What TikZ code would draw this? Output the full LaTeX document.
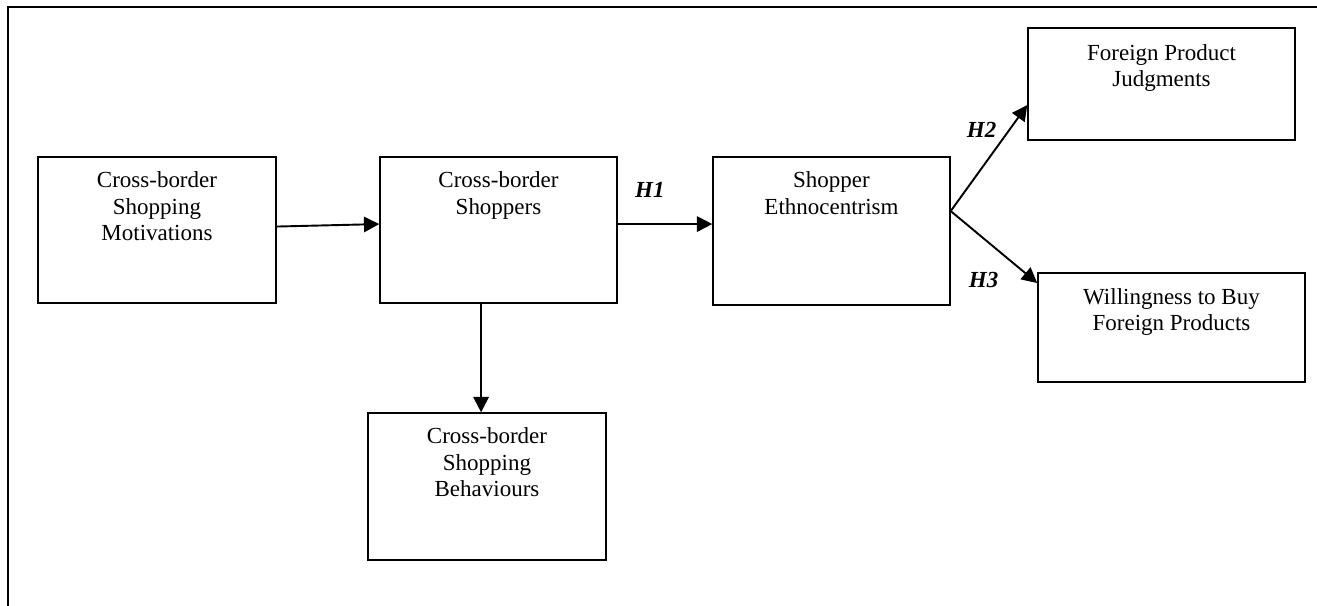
\documentclass[tikz,border=0pt]{standalone}
\usepackage{fontspec}
\setmainfont{Liberation Serif}
\usetikzlibrary{arrows.meta,positioning}

\begin{document}
\begin{tikzpicture}[
    x=0.522pt, y=-0.522pt,
    box/.style={rectangle, draw=black, line width=0.75pt, inner sep=0pt},
    boxtext/.style={align=center, inner sep=0pt, font=\fontsize{12}{13.8}\selectfont},
    hyp/.style={inner sep=0pt, font=\fontsize{12}{13.8}\selectfont\bfseries\itshape},
    link/.style={-{Triangle[length=8pt,width=8pt]}, line width=1pt},
    frame/.style={line width=1pt}
]
\useasboundingbox (0,0) rectangle (1317,606);

% outer frame, only top and left show
\coordinate (tl) at (8,7);
\coordinate (tr) at (1317,7);
\coordinate (bl) at (8,606);
\draw[frame] (bl) -- (tl) -- (tr);

% boxes
\node[box, minimum width=124.2pt, minimum height=76.2pt] (motiv) at (157,230) {};
\node[box, minimum width=123.7pt, minimum height=76.2pt] (shop) at (498.5,230) {};
\node[box, minimum width=123.7pt, minimum height=77.3pt] (ethno) at (831.5,231) {};
\node[box, minimum width=124.2pt, minimum height=76.7pt] (behav) at (487,486.5) {};
\node[box, minimum width=139.4pt, minimum height=58.5pt] (judg) at (1161.5,84) {};
\node[box, minimum width=139.4pt, minimum height=56.9pt] (will) at (1171.5,327.5) {};

% box texts
\node[boxtext, below=8pt of motiv.north] (motivtxt) {Cross-border\\Shopping\\Motivations};
\node[boxtext, below=8pt of shop.north] (shoptxt) {Cross-border\\Shoppers};
\node[boxtext, below=8pt of ethno.north] (ethnotxt) {Shopper\\Ethnocentrism};
\node[boxtext, below=8pt of behav.north] (behavtxt) {Cross-border\\Shopping\\Behaviours};
\node[boxtext, below=8.6pt of judg.north] (judgtxt) {Foreign Product\\Judgments};
\node[boxtext, below=8.3pt of will.north] (willtxt) {Willingness to Buy\\Foreign Products};

% connectors
\draw[link] ([yshift=1.8pt]motiv.east) -- ([yshift=3.1pt]shop.west);
\draw[link] ([yshift=3.1pt]shop.east) -- node[hyp, above=13.5pt, pos=0.34] (h1) {H1} ([yshift=3.1pt]shop.east -| ethno.west);
\draw[link] ([xshift=-9.1pt]shop.south) -- ([xshift=-9.1pt]shop.south |- behav.north);
\draw[link] ([yshift=10.4pt]ethno.east) -- node[hyp, left=6.5pt, pos=0.77] (h2) {H2} ([yshift=-11pt]judg.west);
\draw[link] ([yshift=10.4pt]ethno.east) -- node[hyp, below=17pt, pos=0.38] (h3) {H3} ([yshift=23.2pt]will.west);

\end{tikzpicture}
\end{document}
